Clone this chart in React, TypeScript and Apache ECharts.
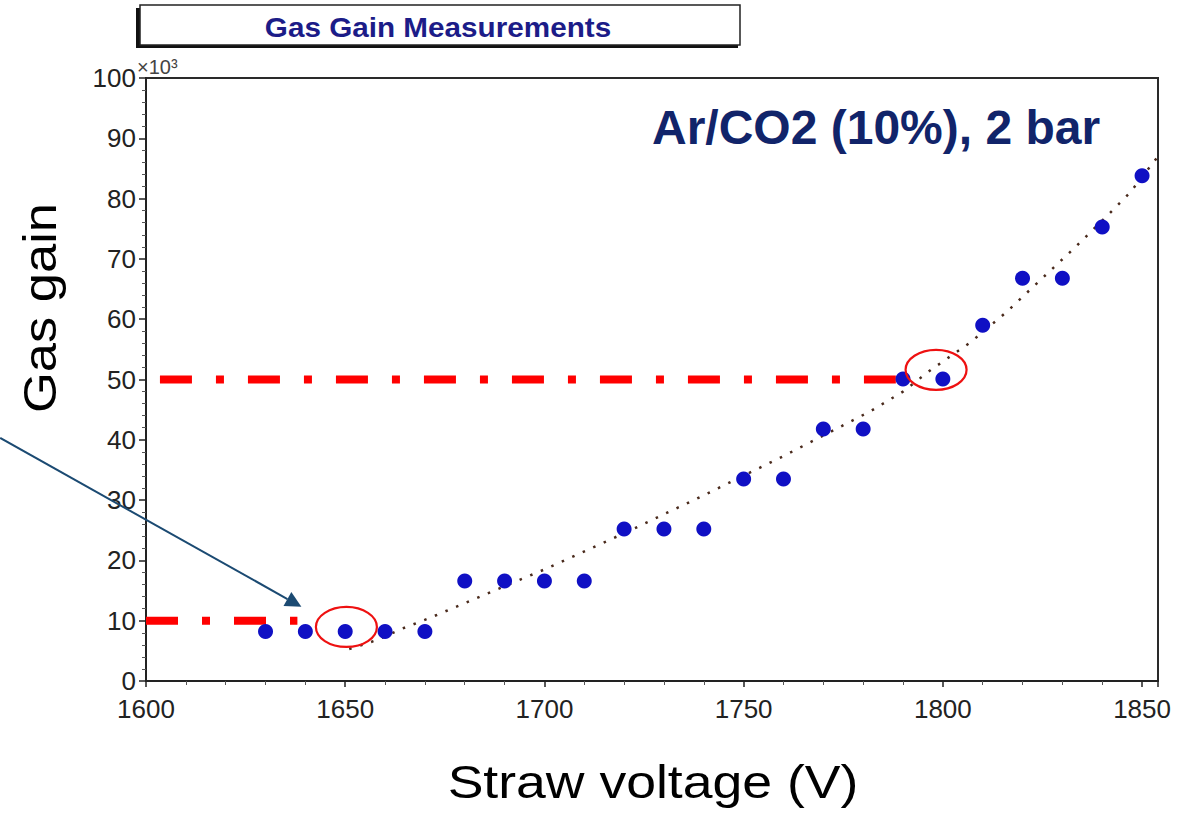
import React, { useEffect, useRef } from "react";
import * as echarts from "echarts";

// ---- data ----
const voltages = [1630, 1640, 1650, 1660, 1670, 1680, 1690, 1700, 1710, 1720, 1730, 1740, 1750, 1760, 1770, 1780, 1790, 1800, 1810, 1820, 1830, 1840, 1850];
const gains = [8.2, 8.2, 8.2, 8.2, 8.2, 16.6, 16.6, 16.6, 16.6, 25.2, 25.2, 25.2, 33.5, 33.5, 41.8, 41.8, 50.1, 50.1, 59.0, 66.8, 66.8, 75.3, 83.8];

// dotted fit curve
const fitVoltages = [1651, 1658, 1664, 1671, 1676, 1700, 1720, 1740, 1760, 1782, 1790, 1797, 1807, 1816, 1824, 1833, 1841, 1847, 1854];
const fitGains = [5.3, 6.8, 8.6, 10.4, 11.8, 18.5, 24.5, 30.8, 37.3, 44.8, 48.0, 51.6, 56.2, 61.2, 66.2, 71.8, 77.0, 81.0, 87.0];

// red dash-dot reference levels (x range in volts, level in gain units of 10^3)
const refHighX = [1603.5, 1788.2];
const refHighLevel = 50;
const refLowX = [1600, 1638];
const refLowLevel = 10;

// highlighted points (ellipse centres in data coordinates)
const circledPoints = [[1650.3, 8.96], [1798.3, 51.6]];
// arrow: from -> to, in data coordinates
const arrowFrom = [1563.4, 40.3];
const arrowTo = [1639.0, 12.3];

const xTicks = [1600, 1650, 1700, 1750, 1800, 1850];

const FONT = "'Liberation Sans', Arial, Helvetica, sans-serif";

export default function App() {
  const ref = useRef<HTMLDivElement>(null);

  useEffect(() => {
    document.body.style.margin = "0";
    const chart = echarts.init(ref.current!, null, { renderer: "svg" });

    const option: any = {
      animation: false,
      backgroundColor: "#ffffff",
      grid: {
        left: 146,
        right: 35,
        top: 78,
        bottom: 133,
        show: true,
        borderColor: "#2a2a2a",
        borderWidth: 2,
        backgroundColor: "transparent",
      },
      xAxis: {
        type: "value",
        min: 1600,
        max: 1854,
        interval: 50,
        axisLine: { show: true, onZero: false, lineStyle: { color: "#222", width: 2 } },
        axisTick: { show: true, length: 6, lineStyle: { color: "#222", width: 1.5 } },
        minorTick: { show: true, splitNumber: 5, length: 4, lineStyle: { color: "#555", width: 1 } },
        splitLine: { show: false },
        axisLabel: {
          fontSize: 26,
          color: "#222",
          fontFamily: FONT,
          margin: 15,
          formatter: (v: number) => (xTicks.indexOf(v) >= 0 ? String(v) : ""),
        },
      },
      yAxis: {
        type: "value",
        min: 0,
        max: 100,
        interval: 10,
        axisLine: { show: true, onZero: false, lineStyle: { color: "#222", width: 2 } },
        axisTick: { show: true, length: 7, lineStyle: { color: "#222", width: 1.5 } },
        minorTick: { show: true, splitNumber: 5, length: 4, lineStyle: { color: "#555", width: 1 } },
        splitLine: { show: false },
        axisLabel: { fontSize: 26, color: "#222", fontFamily: FONT, margin: 10 },
      },
      series: [
        {
          type: "line",
          name: "fit",
          data: fitVoltages.map((v, i) => [v, fitGains[i]]),
          showSymbol: false,
          symbol: "none",
          smooth: false,
          lineStyle: { color: "#4a2a1c", width: 2.5, type: [2.5, 9] },
          z: 2,
        },
        {
          type: "line",
          name: "ref50",
          data: refHighX.map((v) => [v, refHighLevel]),
          symbol: "none",
          lineStyle: { color: "#ff0000", width: 8, type: [32, 24, 8, 24], cap: "butt" },
          z: 3,
        },
        {
          type: "line",
          name: "ref10",
          data: refLowX.map((v) => [v, refLowLevel]),
          symbol: "none",
          lineStyle: { color: "#ff0000", width: 8, type: [32, 24, 8, 24], cap: "butt" },
          z: 3,
        },
        {
          type: "scatter",
          name: "Gas gain",
          data: voltages.map((v, i) => [v, gains[i]]),
          symbol: "circle",
          symbolSize: 15,
          itemStyle: { color: "#1010c4", opacity: 1 },
          z: 4,
        },
      ],
    };
    chart.setOption(option);

    const toPx = (p: number[]) => chart.convertToPixel({ gridIndex: 0 }, p) as number[];

    const ellipses = circledPoints.map((p, i) => {
      const c = toPx(p);
      return {
        type: "ellipse",
        id: "ell" + i,
        shape: { cx: c[0], cy: c[1], rx: 30.5, ry: 20 },
        style: { fill: "none", stroke: "#ee1111", lineWidth: 2.2 },
        z: 10,
      };
    });

    const a0 = toPx(arrowFrom);
    const a1 = toPx(arrowTo);
    const dx = a1[0] - a0[0];
    const dy = a1[1] - a0[1];
    const len = Math.sqrt(dx * dx + dy * dy);
    const ux = dx / len;
    const uy = dy / len;
    const headLen = 16;
    const headHalf = 8;
    const bx = a1[0] - ux * headLen;
    const by = a1[1] - uy * headLen;

    const graphic: any[] = [
      // title box (shadow + box + text)
      {
        type: "rect",
        id: "titleShadow",
        shape: { x: 136, y: 8, width: 602, height: 40 },
        style: { fill: "#111" },
        z: 20,
      },
      {
        type: "rect",
        id: "titleBox",
        shape: { x: 140, y: 5, width: 600, height: 40 },
        style: { fill: "#ffffff", stroke: "#222", lineWidth: 1.5 },
        z: 21,
      },
      {
        type: "text",
        id: "titleText",
        x: 438,
        y: 27,
        scaleX: 1.06,
        style: {
          text: "Gas Gain Measurements",
          fontSize: 28,
          fontWeight: "bold",
          fontFamily: FONT,
          fill: "#1c1c88",
          align: "center",
          verticalAlign: "middle",
        },
        z: 22,
      },
      {
        type: "text",
        id: "exp",
        x: 137,
        y: 67,
        style: {
          text: "×10³",
          fontSize: 20,
          fontFamily: FONT,
          fill: "#444",
          align: "left",
          verticalAlign: "middle",
        },
        z: 22,
      },
      {
        type: "text",
        id: "gasLabel",
        x: 652,
        y: 127,
        style: {
          text: "Ar/CO2 (10%), 2 bar",
          fontSize: 48,
          fontWeight: "bold",
          fontFamily: FONT,
          fill: "#11246a",
          align: "left",
          verticalAlign: "middle",
        },
        z: 22,
      },
      {
        type: "text",
        id: "xName",
        x: 653,
        y: 782,
        scaleX: 1.14,
        style: {
          text: "Straw voltage (V)",
          fontSize: 47,
          fontFamily: FONT,
          fill: "#000",
          align: "center",
          verticalAlign: "middle",
        },
        z: 22,
      },
      {
        type: "text",
        id: "yName",
        x: 40,
        y: 308,
        rotation: Math.PI / 2,
        scaleX: 1.117,
        style: {
          text: "Gas gain",
          fontSize: 47,
          fontFamily: FONT,
          fill: "#000",
          align: "center",
          verticalAlign: "middle",
        },
        z: 22,
      },
      ...ellipses,
      {
        type: "line",
        id: "arrowLine",
        shape: { x1: a0[0], y1: a0[1], x2: bx, y2: by },
        style: { stroke: "#1b4a72", lineWidth: 2 },
        z: 12,
      },
      {
        type: "polygon",
        id: "arrowHead",
        shape: {
          points: [
            [a1[0], a1[1]],
            [bx - uy * headHalf, by + ux * headHalf],
            [bx + uy * headHalf, by - ux * headHalf],
          ],
        },
        style: { fill: "#1b4a72" },
        z: 12,
      },
    ];

    chart.setOption({ graphic });

    return () => {
      chart.dispose();
    };
  }, []);

  return <div ref={ref} style={{ width: 1193, height: 814 }} />;
}
